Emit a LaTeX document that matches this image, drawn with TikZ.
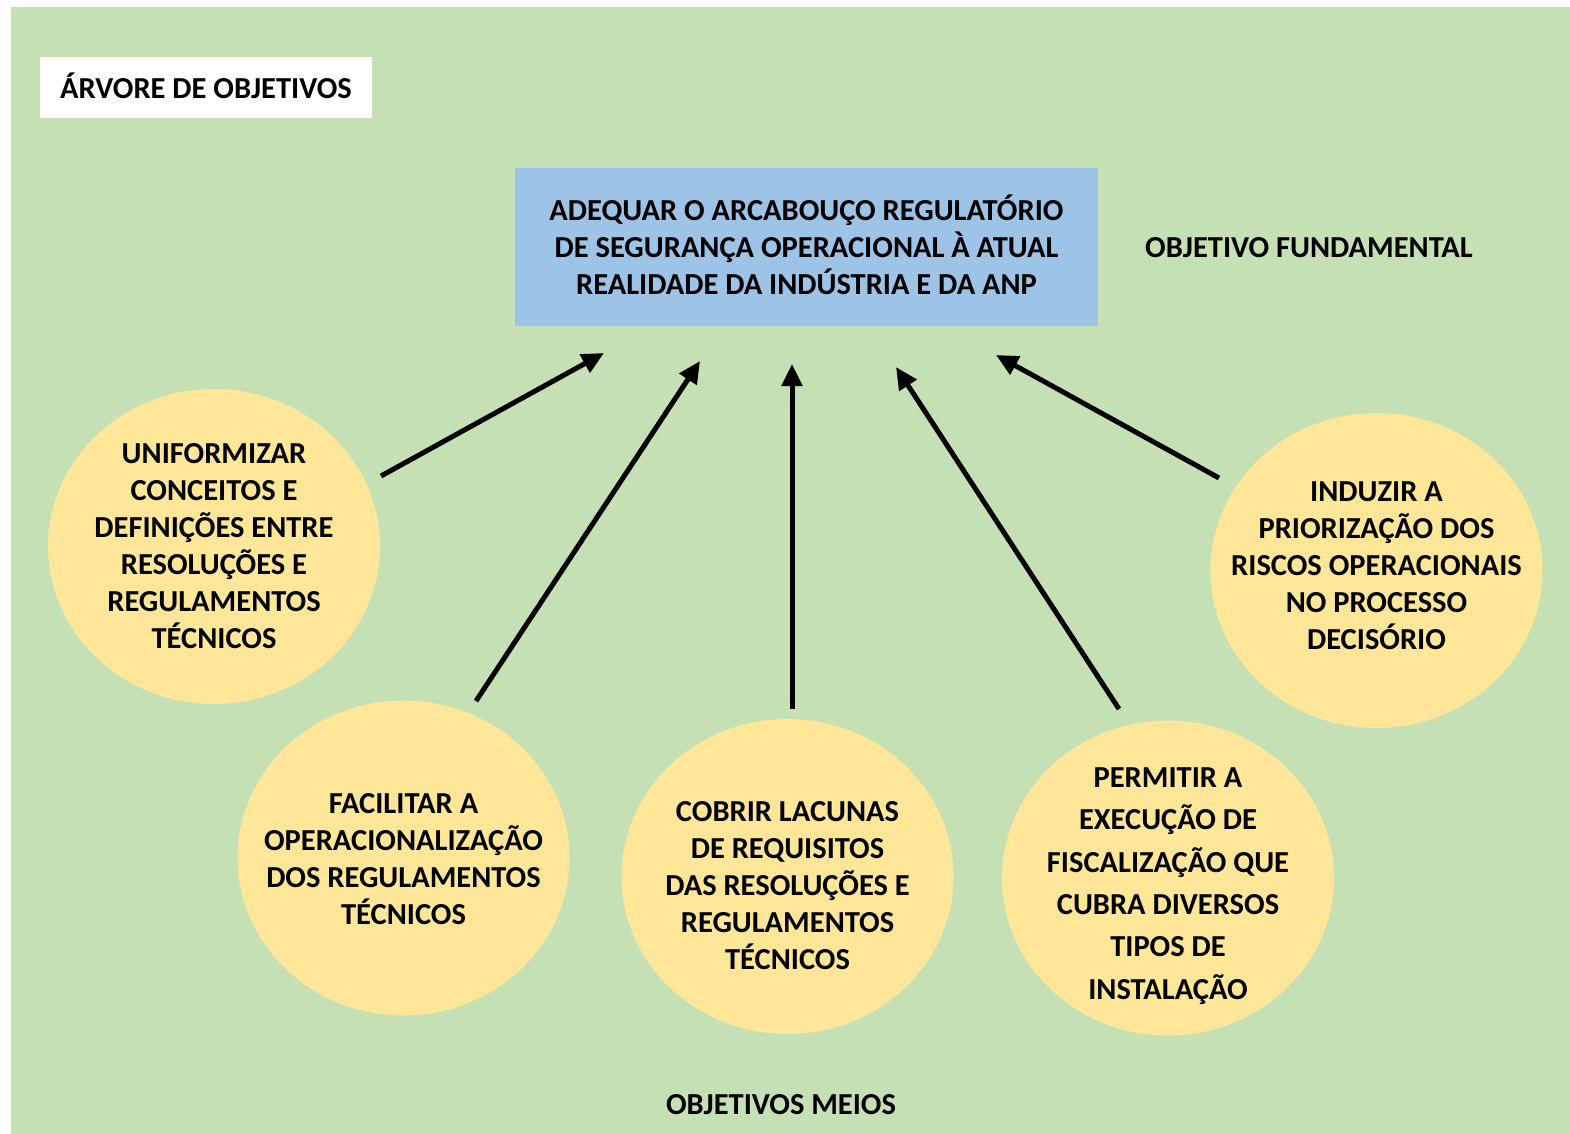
\documentclass[tikz,border=0pt]{standalone}
\usepackage{fontspec}
\setmainfont{Carlito}
\usetikzlibrary{shapes.geometric,arrows.meta}
\definecolor{bggreen}{HTML}{C5E0B4}
\definecolor{boxblue}{HTML}{9DC3E6}
\definecolor{circyellow}{HTML}{FFE699}
\tikzset{
  bubble/.style={ellipse,fill=circyellow,draw=none,minimum width=332pt,minimum height=315pt,inner sep=0pt},
  btext/.style={align=center,inner sep=0pt,font=\bfseries\fontsize{30.5}{37}\selectfont},
  lbl/.style={font=\bfseries\fontsize{30.5}{37}\selectfont,align=center,inner sep=0pt},
  arr/.style={line width=5pt,-{Triangle[length=22pt,width=20pt]}}
}
\begin{document}
\begin{tikzpicture}[x=1pt,y=-1pt]
\useasboundingbox (0,0) rectangle (1570,1134);
\fill[white] (0,0) rectangle (1570,1134);
\fill[bggreen] (11,7) rectangle (1570,1134);
% title
\node[fill=white,minimum width=332pt,minimum height=61pt,inner sep=0pt] (title) at (206,87.5) {};
\node[lbl] (titlet) at (206,85.5) {ÁRVORE DE OBJETIVOS};
% fundamental objective
\node[fill=boxblue,minimum width=583pt,minimum height=158pt,inner sep=0pt] (goal) at (806.5,247) {};
\node[btext] (goalt) at (806.5,245) {ADEQUAR O ARCABOUÇO REGULATÓRIO\\DE SEGURANÇA OPERACIONAL À ATUAL\\REALIDADE DA INDÚSTRIA E DA ANP};
\node[lbl] (fund) at (1309,248) {OBJETIVO FUNDAMENTAL};
% means
\node[bubble] (c1) at (214,546.5) {};
\node[btext] (t1) at (c1.center) {UNIFORMIZAR\\CONCEITOS E\\DEFINIÇÕES ENTRE\\RESOLUÇÕES E\\REGULAMENTOS\\TÉCNICOS};
\node[bubble] (c2) at (403.5,858) {};
\node[btext] (t2) at ([yshift=-1pt]c2.center) {FACILITAR A\\OPERACIONALIZAÇÃO\\DOS REGULAMENTOS\\TÉCNICOS};
\node[bubble] (c3) at (787.5,876.5) {};
\node[btext] (t3) at ([yshift=-9pt]c3.center) {COBRIR LACUNAS\\DE REQUISITOS\\DAS RESOLUÇÕES E\\REGULAMENTOS\\TÉCNICOS};
\node[bubble] (c4) at (1168,878) {};
\node[btext,font=\bfseries\fontsize{30.5}{42.3}\selectfont] (t4) at ([yshift=-8pt]c4.center) {PERMITIR A\\EXECUÇÃO DE\\FISCALIZAÇÃO QUE\\CUBRA DIVERSOS\\TIPOS DE\\INSTALAÇÃO};
\node[bubble] (c5) at (1376.5,570.5) {};
\node[btext] (t5) at ([yshift=5pt]c5.center) {INDUZIR A\\PRIORIZAÇÃO DOS\\RISCOS OPERACIONAIS\\NO PROCESSO\\DECISÓRIO};
\node[lbl] (meios) at (781,1105) {OBJETIVOS MEIOS};
% arrow anchors
\coordinate (s1) at (381,476);   \coordinate (e1) at (604,353);
\coordinate (s2) at (476,701);   \coordinate (e2) at (700,361);
\coordinate (s3) at (792,709);   \coordinate (e3) at (792,364);
\coordinate (s4) at (1119,709);  \coordinate (e4) at (896,367);
\coordinate (s5) at (1219,478);  \coordinate (e5) at (996,355);
\draw[arr] (s1) -- (e1);
\draw[arr] (s2) -- (e2);
\draw[arr] (s3) -- (e3);
\draw[arr] (s4) -- (e4);
\draw[arr] (s5) -- (e5);
\end{tikzpicture}
\end{document}
